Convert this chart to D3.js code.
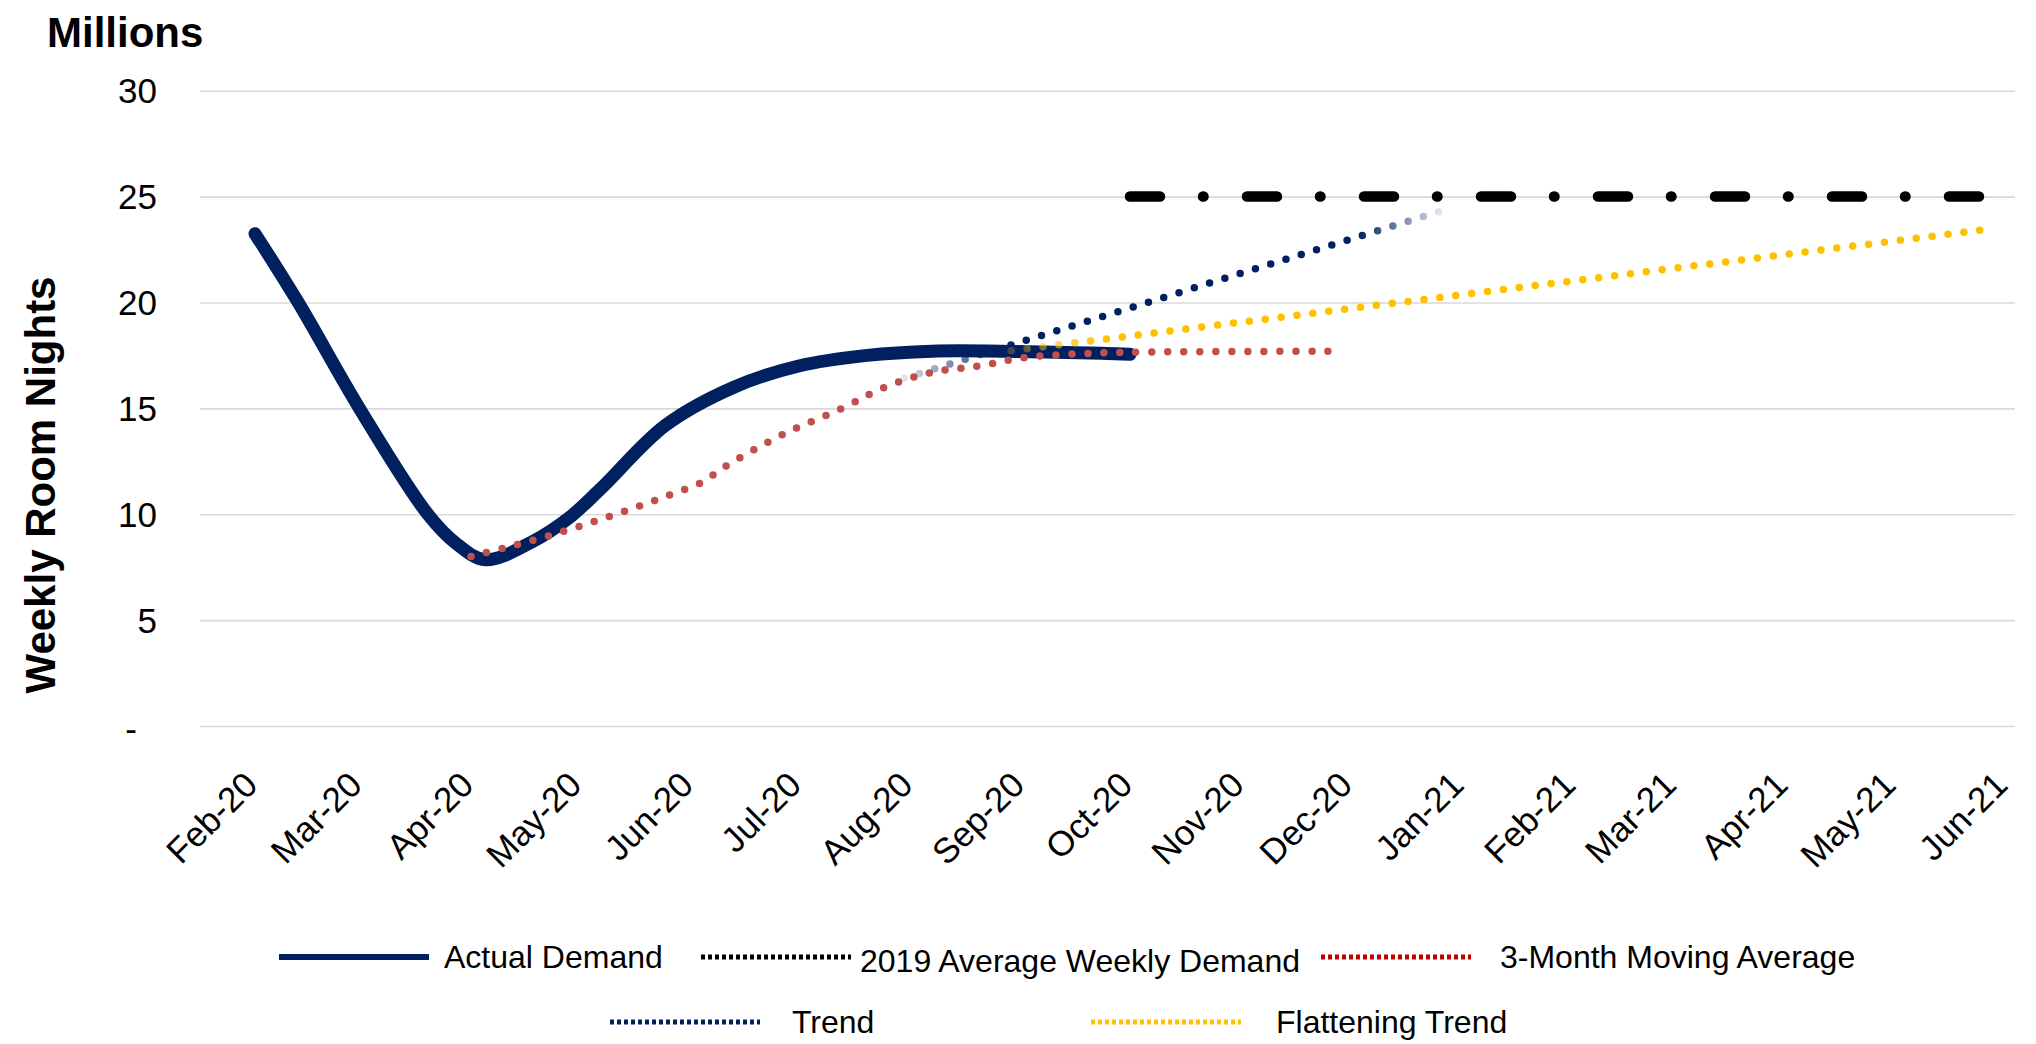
<!DOCTYPE html>
<html><head><meta charset="utf-8">
<script src="https://cdn.jsdelivr.net/npm/d3@7"></script>
<style>
html,body{margin:0;padding:0;background:#fff;}
svg{display:block;font-family:"Liberation Sans",Arial,sans-serif;}
</style></head><body>
<svg id="chart" width="2036" height="1044"></svg>
<script>
// ---- data (millions of weekly room nights) ----
const monthTicks = ["2020-02-01","2020-03-01","2020-04-01","2020-05-01","2020-06-01","2020-07-01",
  "2020-08-01","2020-09-01","2020-10-01","2020-11-01","2020-12-01","2021-01-01","2021-02-01",
  "2021-03-01","2021-04-01","2021-05-01","2021-06-01"];
const yTicks = [0,5,10,15,20,25,30];

const actualDates = ["2020-02-01","2020-02-13","2020-03-01","2020-03-20","2020-03-28","2020-04-05",
  "2020-04-18","2020-04-28","2020-05-07","2020-05-25","2020-06-13","2020-07-01","2020-07-20",
  "2020-08-07","2020-08-26","2020-09-23","2020-10-01"];
const actualValues = [23.25,20.0,15.0,10.0,8.6,7.85,8.7,9.8,11.2,14.2,16.0,17.0,17.5,17.7,17.7,17.6,17.55];

const avgDates = ["2020-10-01","2021-05-27"];
const avgValues = [25,25];

const maDates = ["2020-04-01","2020-04-10","2020-04-23","2020-05-06","2020-05-18","2020-05-26",
  "2020-06-04","2020-06-11","2020-06-27","2020-07-13","2020-07-25","2020-08-07","2020-08-20",
  "2020-09-02","2020-09-20","2020-10-01","2020-11-26"];
const maValues = [8.0,8.4,9.0,9.7,10.4,10.9,11.5,12.3,13.8,15.0,16.0,16.7,17.0,17.4,17.6,17.65,17.7];

const trendDates = ["2020-07-26","2020-12-28"];
const trendValues = [16.2,24.4];

const flatDates = ["2020-08-29","2021-05-27"];
const flatValues = [17.72,23.45];

const legendNames = ["Actual Demand","2019 Average Weekly Demand","3-Month Moving Average","Trend","Flattening Trend"];

// ---- setup ----
const W = 2036, H = 1044;
const plotL = 200, plotR = 2015, plotT = 90.7, plotB = 726;
const navy = "#002060", red = "#C0504D", gold = "#FFC000";
const parse = d3.timeParse("%Y-%m-%d");
const svg = d3.select("#chart");
svg.append("rect").attr("width",W).attr("height",H).attr("fill","#fff");

const x = d3.scaleTime().domain([parse("2020-02-01"), parse("2021-06-01")]).range([255, 2005]);
const y = d3.scaleLinear().domain([0,30]).range([plotB, plotT]);

const zip = (ds, vs) => ds.map((d,i)=>({date:parse(d), v:vs[i]}));
const actual = zip(actualDates, actualValues), avg = zip(avgDates, avgValues),
  ma = zip(maDates, maValues), trend = zip(trendDates, trendValues), flat = zip(flatDates, flatValues);

// gridlines
svg.append("g").attr("transform",`translate(${plotL},0)`)
  .call(d3.axisLeft(y).tickValues(yTicks).tickSize(-(plotR-plotL)).tickFormat(""))
  .call(g=>g.select(".domain").remove())
  .call(g=>g.selectAll("line").attr("stroke","#d9d9d9").attr("stroke-width",1.6));

// y labels
svg.append("g").attr("transform",`translate(${plotL},0)`)
  .call(d3.axisLeft(y).tickValues(yTicks).tickSize(0).tickPadding(43).tickFormat(d=>d===0?"-":d))
  .call(g=>g.select(".domain").remove())
  .call(g=>g.selectAll("text").attr("font-size",35).attr("fill","#000")
    .attr("font-family","'Liberation Sans',Arial,sans-serif")
    .attr("dx",d=>d===0?-20:0).attr("dy",d=>d===0?"0.42em":"0.35em"));

// x labels
svg.append("g").attr("transform",`translate(0,794)`)
  .call(d3.axisBottom(x).tickValues(monthTicks.map(parse)).tickSize(0).tickFormat(d3.timeFormat("%b-%y")))
  .call(g=>g.select(".domain").remove())
  .call(g=>g.selectAll("text").attr("font-size",35).attr("fill","#000")
    .attr("font-family","'Liberation Sans',Arial,sans-serif")
    .attr("text-anchor","end").attr("x",0).attr("y",0).attr("dy",0)
    .attr("transform","translate(4,-7) rotate(-45)"));

// titles
svg.append("text").attr("x",47).attr("y",47).attr("font-size",42).attr("font-weight","bold").text("Millions");
svg.append("text").attr("transform","translate(55,485) rotate(-90)").attr("text-anchor","middle")
  .attr("font-size",42).attr("font-weight","bold").text("Weekly Room Nights");

// gradients for the fading trend lines
const defs = svg.append("defs");
function fadeGrad(id, data, color, stops){
  const gr = defs.append("linearGradient").attr("id",id).attr("gradientUnits","userSpaceOnUse")
    .attr("x1",x(data[0].date)).attr("x2",x(data[data.length-1].date)).attr("y1",0).attr("y2",0);
  stops.forEach(s=>gr.append("stop").attr("offset",s[0]).attr("stop-color",color).attr("stop-opacity",s[1]));
}
fadeGrad("trendGrad", trend, navy, [[0,0],[0.22,1],[0.84,1],[1,0.05]]);
fadeGrad("flatGrad", flat, gold, [[0,0.25],[0.1,1],[1,1]]);

const smooth = d3.line().x(d=>x(d.date)).y(d=>y(d.v)).curve(d3.curveCatmullRom.alpha(0.5));
const straight = d3.line().x(d=>x(d.date)).y(d=>y(d.v));

svg.append("path").datum(actual).attr("d",smooth).attr("fill","none").attr("stroke",navy)
  .attr("stroke-width",13).attr("stroke-linecap","round").attr("stroke-linejoin","round");
svg.append("path").datum(avg).attr("d",straight).attr("fill","none").attr("stroke","#000")
  .attr("stroke-width",10.5).attr("stroke-linecap","round").attr("stroke-dasharray","30,43,0.5,43.5");
svg.append("path").datum(ma).attr("d",smooth).attr("fill","none").attr("stroke",red)
  .attr("stroke-width",7.5).attr("stroke-linecap","round").attr("stroke-dasharray","0,16");
svg.append("path").datum(trend).attr("d",straight).attr("fill","none").attr("stroke","url(#trendGrad)")
  .attr("stroke-width",7.5).attr("stroke-linecap","round").attr("stroke-dasharray","0,16");
svg.append("path").datum(flat).attr("d",straight).attr("fill","none").attr("stroke","url(#flatGrad)")
  .attr("stroke-width",7.5).attr("stroke-linecap","round").attr("stroke-dasharray","0,16");

// legend
const legendLayout = [
  {x:279, y:957, tx:444, dy:11, color:navy, w:6, dash:null},
  {x:701, y:957, tx:860, dy:15, color:"#000", w:5, dash:"4,3"},
  {x:1321, y:957, tx:1500, dy:11, color:"#C00000", w:5, dash:"4,3"},
  {x:610, y:1022, tx:792, dy:11, color:navy, w:5, dash:"4,3"},
  {x:1091, y:1022, tx:1276, dy:11, color:gold, w:5, dash:"4,3"}
];
const leg = svg.append("g").selectAll("g").data(legendNames).join("g");
leg.append("line").attr("x1",(d,i)=>legendLayout[i].x).attr("x2",(d,i)=>legendLayout[i].x+150)
  .attr("y1",(d,i)=>legendLayout[i].y).attr("y2",(d,i)=>legendLayout[i].y)
  .attr("stroke",(d,i)=>legendLayout[i].color).attr("stroke-width",(d,i)=>legendLayout[i].w)
  .attr("stroke-dasharray",(d,i)=>legendLayout[i].dash);
leg.append("text").attr("x",(d,i)=>legendLayout[i].tx).attr("y",(d,i)=>legendLayout[i].y+legendLayout[i].dy)
  .attr("font-size",32).attr("fill","#000").text(d=>d);
</script>
</body></html>
